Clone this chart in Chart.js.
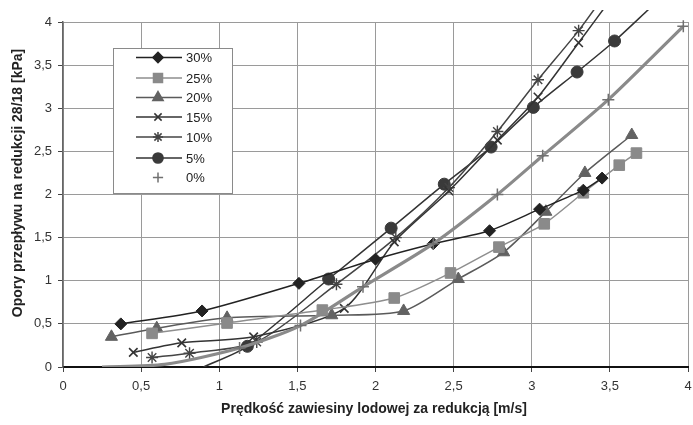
<!DOCTYPE html>
<html>
<head>
<meta charset="utf-8">
<script src="https://cdn.jsdelivr.net/npm/chart.js@4/dist/chart.umd.min.js"></script>
<style>
    html, body { margin: 0; padding: 0; background: #fff; }
    #wrap { width: 693px; height: 425px; position: relative; }
</style>
</head>
<body>
<div id="wrap"><canvas id="c"></canvas></div>
<script>
    // prędkość [m/s] i opory [kPa] dla każdej serii
    const labels = ['30%', '25%', '20%', '15%', '10%', '5%', '0%'];

    const x30 = [0.37, 0.89, 1.51, 2.00, 2.37, 2.73, 3.05, 3.33, 3.45];
    const y30 = [0.50, 0.65, 0.97, 1.25, 1.43, 1.58, 1.83, 2.05, 2.19];

    const x25 = [0.57, 1.05, 1.66, 2.12, 2.48, 2.79, 3.08, 3.33, 3.56, 3.67];
    const y25 = [0.39, 0.51, 0.66, 0.80, 1.09, 1.39, 1.66, 2.02, 2.34, 2.48];

    const x20 = [0.31, 0.60, 1.05, 1.72, 2.18, 2.53, 2.82, 3.09, 3.34, 3.64];
    const y20 = [0.35, 0.45, 0.57, 0.60, 0.65, 1.02, 1.33, 1.80, 2.25, 2.69];

    const x15 = [0.45, 0.76, 1.22, 1.80, 2.12, 2.47, 2.78, 3.04, 3.30, 3.50];
    const y15 = [0.17, 0.28, 0.35, 0.68, 1.45, 2.04, 2.63, 3.13, 3.76, 4.25];

    const x10 = [0.57, 0.81, 1.24, 1.75, 2.13, 2.47, 2.78, 3.04, 3.30, 3.50];
    const y10 = [0.11, 0.16, 0.29, 0.96, 1.50, 2.08, 2.73, 3.33, 3.90, 4.40];

    const x5 = [0.90, 1.18, 1.70, 2.10, 2.44, 2.74, 3.01, 3.29, 3.53, 3.75];
    const y5 = [0.00, 0.24, 1.02, 1.61, 2.12, 2.55, 3.01, 3.42, 3.78, 4.15];

    const x0 = [0.25, 0.65, 1.13, 1.52, 1.92, 2.37, 2.78, 3.07, 3.49, 3.97];
    const y0 = [0.00, 0.03, 0.22, 0.48, 0.93, 1.43, 2.00, 2.45, 3.10, 3.95];

    const xTicks = [0, 0.5, 1, 1.5, 2, 2.5, 3, 3.5, 4];
    const yTicks = [0, 0.5, 1, 1.5, 2, 2.5, 3, 3.5, 4];

    const xTitle = 'Prędkość zawiesiny lodowej za redukcją [m/s]';
    const yTitle = 'Opory przepływu na redukcji 28/18 [kPa]';

    const FONT = 'Arial, "Liberation Sans", sans-serif';

    function pts(xs, ys) {
        return xs.map((x, i) => ({ x: x, y: ys[i] }));
    }

    // marker ukryty poza obszarem wykresu (Excel nie pokazuje ich na osi)
    function radiusFn(r) {
        return ctx => {
            const v = ctx.raw;
            if (!v) return r;
            return (v.y > 4 || v.y < 0.05) ? 0 : r;
        };
    }

    function series(label, xs, ys, o) {
        return {
            label: label,
            data: pts(xs, ys),
            borderColor: o.line,
            borderWidth: o.width || 1.5,
            backgroundColor: o.fill,
            pointStyle: o.style,
            pointRadius: radiusFn(o.r),
            pointBackgroundColor: o.fill,
            pointBorderColor: o.mark || o.fill,
            pointBorderWidth: o.pbw || 1,
            tension: 0.25,
            clip: { left: 0, top: 12, right: 0, bottom: 0 },
            _legend: o
        };
    }

    const datasets = [
        series('0%', x0, y0, { line: '#8a8a8a', fill: '#707070', mark: '#707070', style: 'cross', r: 6, width: 3.2, pbw: 1.5, noLine: true }),
        series('30%', x30, y30, { line: '#222', fill: '#222', style: 'rectRot', r: 6 }),
        series('25%', x25, y25, { line: '#8e8e8e', fill: '#8a8a8a', style: 'rect', r: 7.5 }),
        series('20%', x20, y20, { line: '#5a5a5a', fill: '#626262', style: 'triangle', r: 7 }),
        series('15%', x15, y15, { line: '#333', fill: '#333', style: 'crossRot', r: 6, pbw: 1.6 }),
        series('10%', x10, y10, { line: '#444', fill: '#444', style: 'star', r: 6, pbw: 1.4 }),
        series('5%', x5, y5, { line: '#333', fill: '#3a3a3a', style: 'circle', r: 6 })
    ];

    // legenda w ramce wewnątrz obszaru wykresu + tytuły osi
    const overlay = {
        id: 'overlay',
        afterDraw(chart) {
            const ctx = chart.ctx;
            ctx.save();

            // tytuły osi
            ctx.fillStyle = '#222';
            ctx.font = 'bold 14px ' + FONT;
            ctx.textAlign = 'center';
            ctx.textBaseline = 'middle';
            ctx.fillText(xTitle, 374, 409);
            ctx.save();
            ctx.translate(18, 183);
            ctx.rotate(-Math.PI / 2);
            ctx.fillText(yTitle, 0, 0);
            ctx.restore();

            // ramka legendy
            ctx.fillStyle = '#fff';
            ctx.strokeStyle = '#8a8a8a';
            ctx.lineWidth = 1;
            ctx.fillRect(113.5, 48.5, 119, 145);
            ctx.strokeRect(113.5, 48.5, 119, 145);

            const rows = [57.5, 78, 97.5, 117, 137, 158, 177.5];
            labels.forEach((lab, i) => {
                const ds = chart.data.datasets.find(d => d.label === lab);
                const o = ds._legend;
                const y = rows[i];
                if (!o.noLine) {
                    ctx.strokeStyle = o.line;
                    ctx.lineWidth = 1.5;
                    ctx.beginPath();
                    ctx.moveTo(136, y);
                    ctx.lineTo(182, y);
                    ctx.stroke();
                }
                ctx.fillStyle = o.fill;
                ctx.strokeStyle = o.mark || o.fill;
                if (Chart.helpers && Chart.helpers.drawPoint) {
                    Chart.helpers.drawPoint(ctx, {
                        pointStyle: o.style,
                        radius: o.r * 0.85,
                        rotation: 0,
                        borderWidth: o.pbw || 1
                    }, 158, y);
                }
                ctx.fillStyle = '#222';
                ctx.font = '13px ' + FONT;
                ctx.textAlign = 'left';
                ctx.textBaseline = 'middle';
                ctx.fillText(lab, 186, y + 1);
            });
            ctx.restore();
        }
    };

    const fmt = v => String(v).replace('.', ',');

    new Chart(document.getElementById('c'), {
        type: 'line',
        data: { datasets },
        options: {
            responsive: true,
            maintainAspectRatio: false,
            animation: false,
            layout: { autoPadding: false, padding: { top: 22, right: 5, left: 0, bottom: 0 } },
            plugins: {
                legend: { display: false },
                tooltip: { enabled: false }
            },
            scales: {
                x: {
                    type: 'linear',
                    min: 0,
                    max: 4,
                    afterBuildTicks: s => { s.ticks = xTicks.map(v => ({ value: v })); },
                    afterFit: s => { s.height = 58; s.paddingLeft = 0; s.paddingRight = 0; },
                    ticks: {
                        callback: fmt,
                        color: '#333',
                        font: { family: FONT, size: 13 },
                        padding: 7,
                        maxRotation: 0
                    },
                    grid: { color: '#9a9a9a', lineWidth: 1, tickLength: 5, tickColor: '#444' },
                    border: { color: '#111', width: 2 }
                },
                y: {
                    type: 'linear',
                    min: 0,
                    max: 4,
                    afterBuildTicks: s => { s.ticks = yTicks.map(v => ({ value: v })); },
                    afterFit: s => { s.width = 63; s.paddingTop = 0; s.paddingBottom = 0; },
                    ticks: {
                        callback: fmt,
                        color: '#333',
                        font: { family: FONT, size: 13 },
                        padding: 6
                    },
                    grid: { color: '#9a9a9a', lineWidth: 1, tickLength: 5, tickColor: '#444' },
                    border: { color: '#666', width: 1.5 }
                }
            }
        },
        plugins: [overlay]
    });
</script>
</body>
</html>
